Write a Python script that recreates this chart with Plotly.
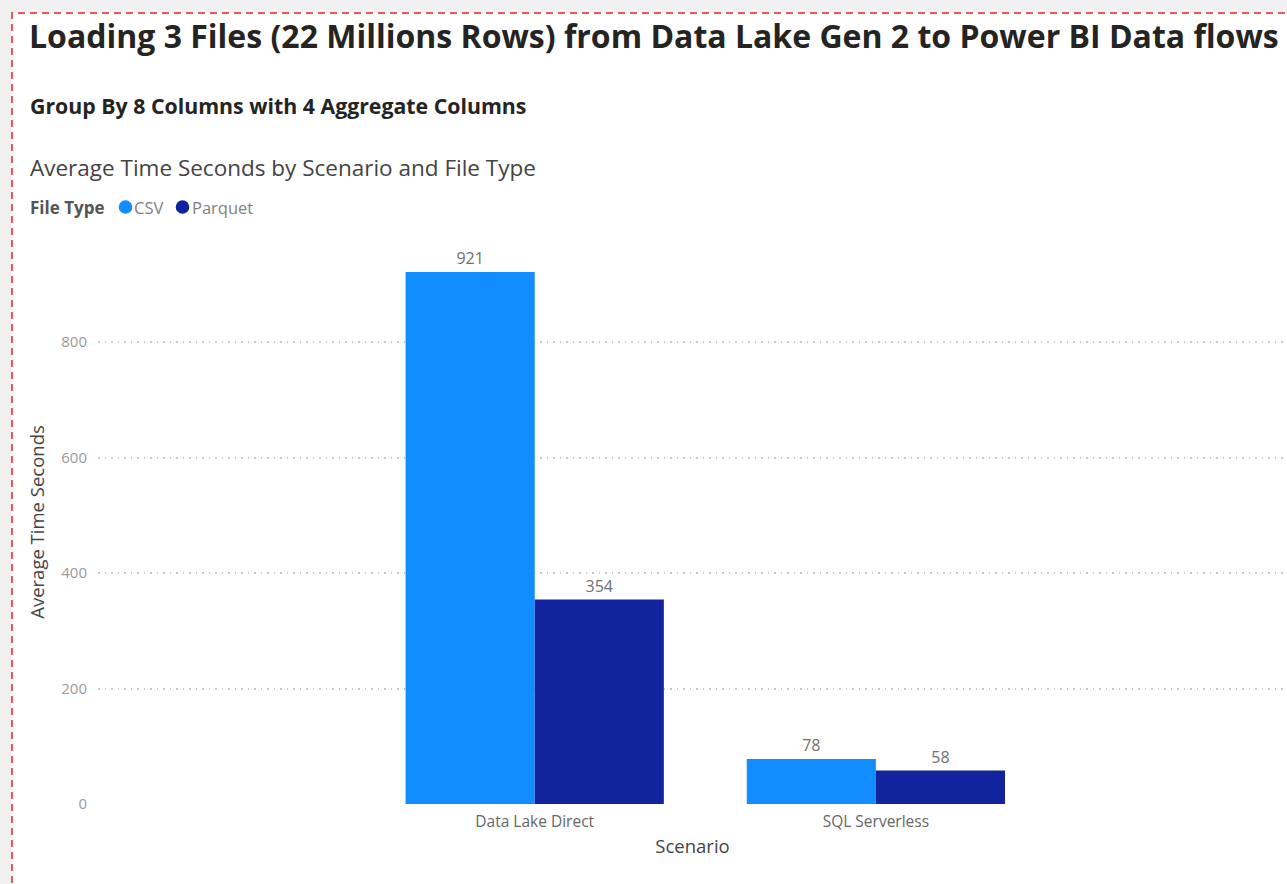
import plotly.graph_objects as go

# ---- data ----
scenarios = ["Data Lake Direct", "SQL Serverless"]
csv_values = [921, 78]
parquet_values = [354, 58]
file_types = ["CSV", "Parquet"]
y_ticks = [0, 200, 400, 600, 800]

main_title = "Loading 3 Files (22 Millions Rows) from Data Lake Gen 2 to Power BI Data flows"
sub_title = "Group By 8 Columns with 4 Aggregate Columns"
chart_title = "Average Time Seconds by Scenario and File Type"
legend_title = "File Type"

# ---- layout geometry (pixels) ----
W, H = 1287, 884
ML, MR, MT, MB = 98, 0, 240, 80
PW, PH = W - ML - MR, H - MT - MB

def px_x(p):
    return (p - ML) / PW

def px_y(p):
    return 1 - (p - MT) / PH

CSV_COLOR = "#118DFF"
PAR_COLOR = "#12239E"
COLORS = [CSV_COLOR, PAR_COLOR]
FONT = "Segoe UI, Open Sans, Liberation Sans, sans-serif"

fig = go.Figure()
for name, vals, col in zip(file_types, [csv_values, parquet_values], COLORS):
    fig.add_trace(go.Bar(
        x=scenarios, y=vals, name=name, marker_color=col,
        marker_line_width=0, text=vals, textposition="outside",
        textfont=dict(color="#707070", size=16, family=FONT),
        cliponaxis=False, showlegend=False))

# legend drawn as text + circle shapes
LEG_Y = 207
legend_ann = [
    dict(text="<b>" + legend_title + "</b>", xref="paper", yref="paper",
         x=px_x(28), y=px_y(LEG_Y + 1), xanchor="left", yanchor="middle",
         showarrow=False, font=dict(size=17, color="#555555")),
]
legend_shapes = []
legend_pos = [(125.5, 132), (182.5, 190)]
R = 6.8
for name, col, (cx, tx) in zip(file_types, COLORS, legend_pos):
    legend_shapes.append(dict(type="circle", xref="paper", yref="paper",
                              x0=px_x(cx - R), x1=px_x(cx + R),
                              y0=px_y(LEG_Y + R), y1=px_y(LEG_Y - R),
                              fillcolor=col, line=dict(width=0)))
    legend_ann.append(dict(text=name, xref="paper", yref="paper",
                           x=px_x(tx), y=px_y(LEG_Y + 1), xanchor="left", yanchor="middle",
                           showarrow=False, font=dict(size=16.5, color="#808080")))

fig.update_layout(
    width=W, height=H,
    margin=dict(l=ML, r=MR, t=MT, b=MB, autoexpand=False),
    paper_bgcolor="#f0f0f0",
    plot_bgcolor="rgba(0,0,0,0)",
    font=dict(family=FONT),
    barmode="group",
    bargap=0.243,
    bargroupgap=0,
    showlegend=False,
    xaxis=dict(
        type="category", range=[-1.28, 2.205], showgrid=False, zeroline=False,
        showline=False, ticks="", tickfont=dict(size=15.5, color="#666666"),
        ticklabelstandoff=6,
        title=dict(text="Scenario", font=dict(size=18.5, color="#444444"), standoff=9),
    ),
    yaxis=dict(
        range=[0, PH / 0.5775], tickvals=y_ticks, showgrid=True,
        gridcolor="#c8c8c8", griddash="1.5px,5px", gridwidth=1.5, zeroline=False,
        showline=False, ticks="", tickfont=dict(size=15, color="#9a9a9a"),
        ticklabelstandoff=10,
        title=dict(text="Average Time Seconds", font=dict(size=18.5, color="#444444"), standoff=11),
    ),
    shapes=[
        dict(type="rect", xref="paper", yref="paper",
             x0=px_x(12), x1=px_x(W + 20), y0=px_y(H + 20), y1=px_y(13),
             fillcolor="white", line=dict(color="#e85a5c", width=2, dash="7px,5px"),
             layer="below"),
    ] + legend_shapes,
    annotations=[
        dict(text="<b>" + main_title + "</b>", xref="paper", yref="paper",
             x=px_x(27), y=px_y(35), xanchor="left", yanchor="middle",
             showarrow=False, font=dict(size=32, color="#252423")),
        dict(text="<b>" + sub_title + "</b>", xref="paper", yref="paper",
             x=px_x(28), y=px_y(105), xanchor="left", yanchor="middle",
             showarrow=False, font=dict(size=21.3, color="#252423")),
        dict(text=chart_title, xref="paper", yref="paper",
             x=px_x(28), y=px_y(167), xanchor="left", yanchor="middle",
             showarrow=False, font=dict(size=22.5, color="#444444")),
    ] + legend_ann,
)

fig.write_html("out.html")
